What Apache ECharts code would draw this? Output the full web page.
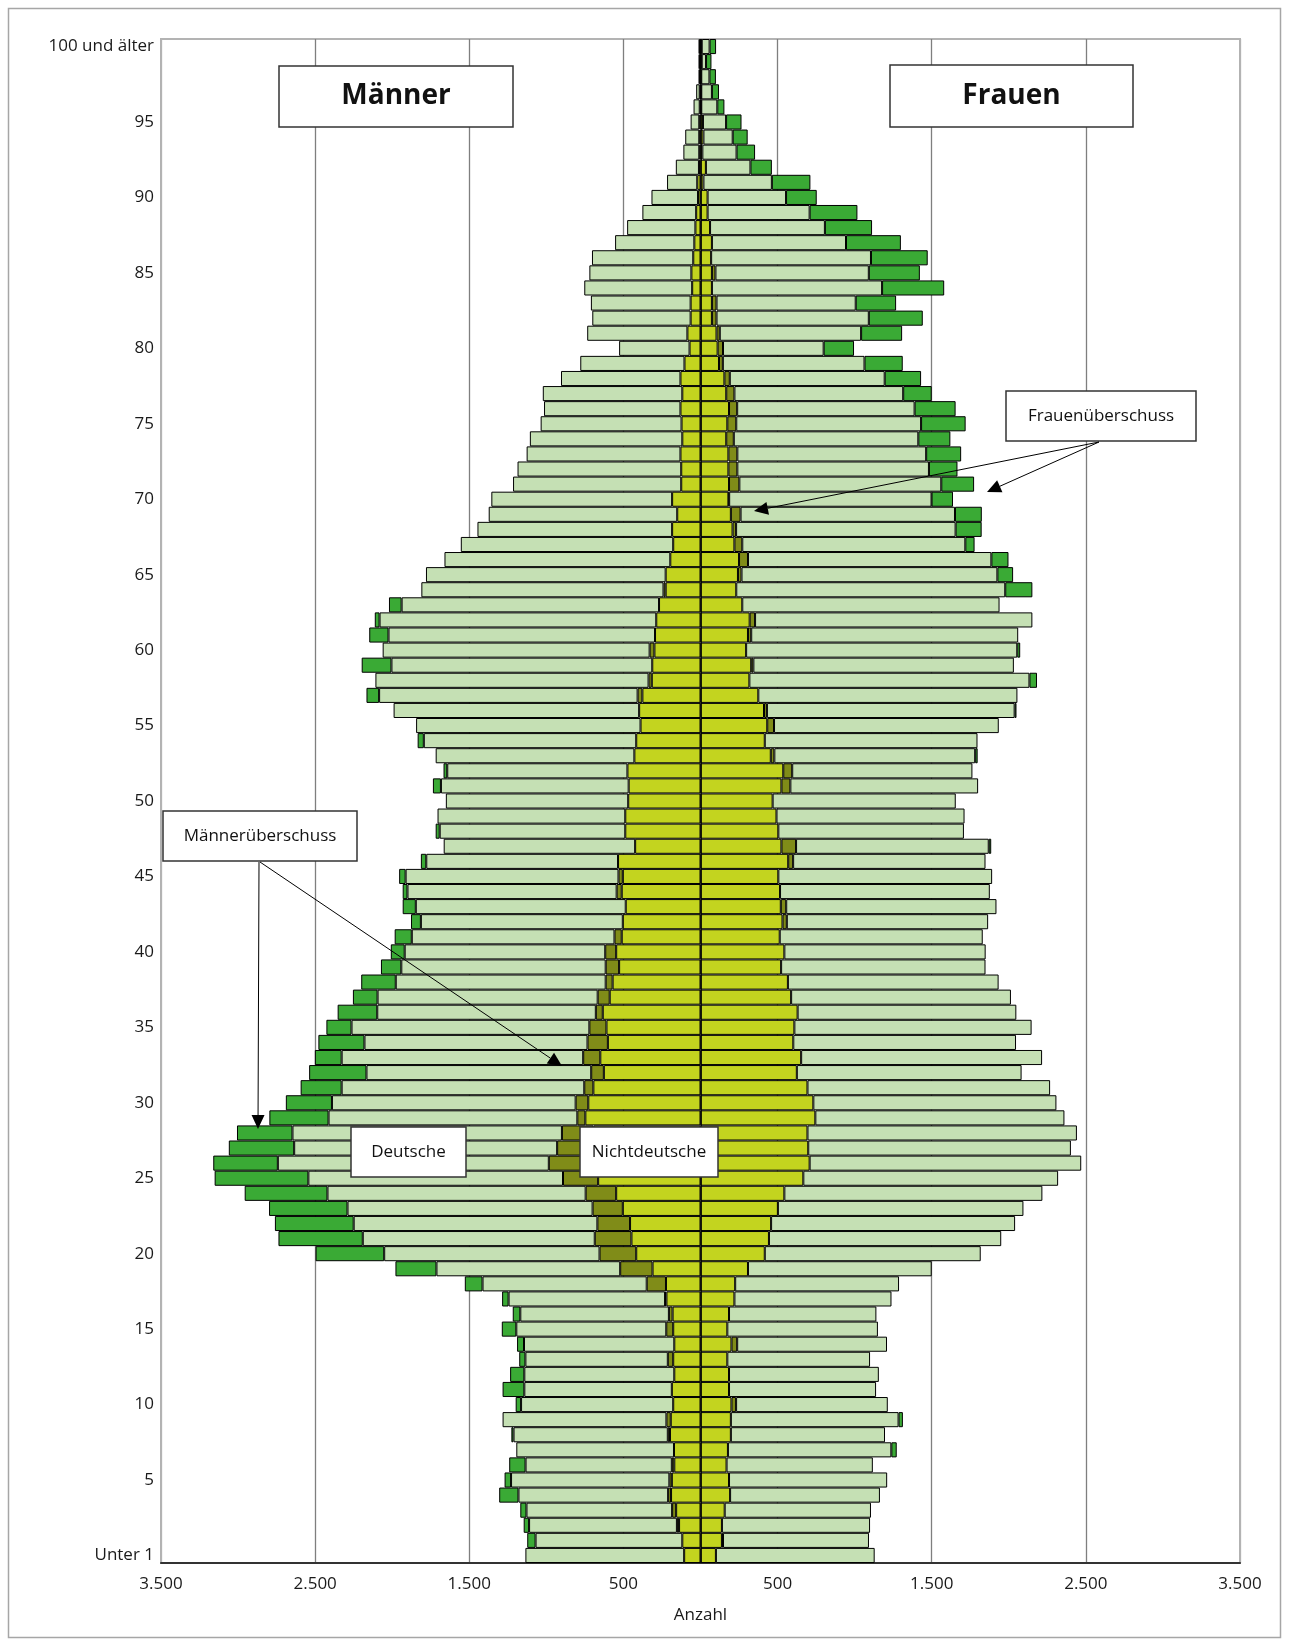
<!DOCTYPE html>
<html lang="de">
<head>
<meta charset="utf-8">
<title>Bevölkerungspyramide</title>
<script src="https://cdn.jsdelivr.net/npm/echarts@6/dist/echarts.min.js"></script>
<style>
  html, body { margin: 0; padding: 0; background: #fff; }
  #chart { width: 1289px; height: 1646px; }
</style>
</head>
<body>
<div id="chart"></div>
<script>
// Altersjahre 0 .. 100 (Index = Alter)
const ageLabels = [];
for (let i = 0; i <= 100; i++) {
  ageLabels.push(i === 0 ? 'Unter 1' : i === 100 ? '100 und älter' : String(i));
}

// Männer: Nichtdeutsche (gemeinsamer Teil), Überschuss Nichtdeutsche, Deutsche, Überschuss Deutsche
const maennerND = [
  106, 118, 139, 158, 191, 186, 170, 172, 198, 193,
  177, 186, 170, 177, 170, 177, 181, 221, 224, 311,
  417, 448, 457, 504, 547, 664, 708, 699, 694, 747,
  728, 695, 627, 650, 601, 610, 634, 589, 570, 528,
  547, 511, 504, 485, 511, 504, 535, 424, 488, 488,
  469, 466, 474, 429, 417, 389, 398, 377, 316, 313,
  299, 295, 287, 269, 226, 226, 196, 177, 184, 151,
  184, 125, 125, 130, 118, 123, 130, 118, 130, 104,
  71, 85, 64, 64, 54, 59, 47, 40, 33, 28,
  16, 21, 10, 8, 8, 8, 5, 5, 3, 3,
  3
];
const maennerNDUeber = [
  0, 0, 14, 26, 19, 16, 16, 0, 14, 28,
  0, 0, 0, 35, 0, 45, 24, 9, 125, 210,
  238, 238, 212, 196, 198, 228, 276, 231, 205, 52,
  82, 59, 82, 111, 132, 111, 45, 78, 45, 87,
  71, 47, 0, 0, 33, 28, 0, 0, 0, 0,
  0, 0, 0, 0, 0, 0, 0, 31, 21, 0,
  31, 0, 0, 0, 14, 0, 0, 0, 0, 0,
  0, 0, 0, 0, 0, 0, 0, 0, 0, 0,
  0, 0, 0, 0, 0, 0, 0, 0, 0, 0,
  0, 0, 0, 0, 0, 0, 0, 0, 0, 0,
  0
];
const maennerD = [
  1030, 952, 959, 945, 971, 1027, 949, 1023, 1001, 1063,
  987, 957, 973, 924, 975, 973, 964, 1015, 1065, 1192,
  1397, 1505, 1581, 1590, 1675, 1652, 1758, 1706, 1748, 1614,
  1581, 1574, 1458, 1567, 1447, 1543, 1418, 1428, 1362, 1326,
  1301, 1315, 1310, 1362, 1357, 1381, 1244, 1242, 1204, 1218,
  1183, 1218, 1169, 1289, 1378, 1456, 1593, 1677, 1772, 1692,
  1732, 1729, 1795, 1670, 1571, 1555, 1465, 1378, 1263, 1223,
  1173, 1091, 1062, 998, 989, 914, 885, 905, 775, 676,
  457, 650, 638, 647, 700, 662, 657, 514, 443, 349,
  302, 196, 150, 103, 91, 56, 40, 23, 10, 10,
  10
];
const maennerDUeber = [
  0, 54, 35, 40, 125, 42, 106, 0, 14, 0,
  35, 141, 92, 40, 45, 94, 49, 42, 115, 266,
  445, 547, 511, 509, 537, 608, 419, 424, 360, 384,
  299, 266, 372, 174, 299, 163, 257, 160, 224, 132,
  90, 111, 64, 85, 31, 42, 35, 0, 26, 0,
  0, 52, 24, 0, 40, 0, 0, 82, 0, 193,
  0, 125, 31, 82, 0, 0, 0, 0, 0, 0,
  0, 0, 0, 0, 0, 0, 0, 0, 0, 0,
  0, 0, 0, 0, 0, 0, 0, 0, 0, 0,
  0, 0, 0, 0, 0, 0, 0, 0, 0, 0,
  0
];

// Frauen: gleiche Aufteilung
const frauenND = [
  100, 139, 139, 157, 192, 185, 169, 178, 197, 197,
  201, 185, 185, 174, 201, 174, 185, 220, 225, 308,
  417, 444, 458, 502, 544, 667, 708, 699, 694, 745,
  732, 694, 625, 653, 602, 609, 630, 588, 567, 523,
  544, 514, 532, 521, 516, 505, 569, 525, 505, 493,
  468, 525, 537, 456, 417, 433, 412, 375, 317, 329,
  296, 308, 319, 271, 232, 243, 250, 220, 208, 197,
  181, 185, 181, 181, 167, 174, 185, 167, 155, 120,
  111, 104, 74, 74, 74, 74, 69, 74, 62, 46,
  46, 19, 35, 12, 19, 16, 5, 5, 5, 8,
  8
];
const frauenNDUeber = [
  0, 7, 0, 0, 0, 0, 0, 0, 0, 0,
  30, 0, 0, 0, 37, 0, 0, 0, 0, 0,
  0, 0, 0, 0, 0, 0, 0, 0, 0, 0,
  0, 0, 0, 0, 0, 0, 0, 0, 0, 0,
  0, 0, 28, 35, 0, 0, 32, 95, 0, 0,
  0, 58, 58, 23, 0, 44, 19, 0, 0, 14,
  0, 21, 35, 0, 0, 23, 58, 51, 23, 63,
  5, 67, 58, 58, 49, 58, 53, 53, 35, 25,
  35, 21, 30, 30, 0, 23, 0, 0, 0, 0,
  0, 0, 0, 0, 0, 0, 0, 0, 0, 0,
  0
];
const frauenD = [
  1030, 947, 961, 949, 972, 1026, 949, 1060, 1000, 1088,
  984, 954, 972, 926, 972, 977, 956, 1019, 1063, 1192,
  1401, 1507, 1583, 1593, 1674, 1653, 1762, 1704, 1748, 1616,
  1577, 1574, 1458, 1563, 1445, 1539, 1419, 1426, 1367, 1326,
  1306, 1317, 1306, 1364, 1361, 1387, 1248, 1250, 1204, 1220,
  1188, 1218, 1169, 1303, 1380, 1458, 1607, 1681, 1817, 1690,
  1759, 1732, 1799, 1669, 1745, 1660, 1579, 1447, 1424, 1391,
  1313, 1310, 1243, 1225, 1197, 1199, 1151, 1095, 1005, 919,
  653, 917, 988, 903, 1104, 995, 1037, 870, 745, 662,
  509, 444, 289, 222, 190, 150, 104, 69, 53, 28,
  51
];
const frauenDUeber = [
  0, 0, 0, 0, 0, 0, 0, 35, 0, 28,
  0, 0, 0, 0, 0, 0, 0, 0, 0, 0,
  0, 0, 0, 0, 0, 0, 0, 0, 0, 0,
  0, 0, 0, 0, 0, 0, 0, 0, 0, 0,
  0, 0, 0, 0, 0, 0, 0, 16, 0, 0,
  0, 0, 0, 16, 0, 0, 12, 0, 49, 0,
  19, 0, 0, 0, 176, 102, 111, 60, 169, 174,
  139, 213, 185, 227, 208, 289, 266, 185, 236, 248,
  197, 266, 350, 262, 403, 331, 368, 356, 306, 310,
  199, 250, 139, 120, 97, 100, 46, 46, 42, 35,
  42
];

const FONT = '"Open Sans", "Noto Sans", sans-serif';
const colors = {
  nd: '#c3d41f',
  ndUeber: '#808c18',
  d: '#c5e0b4',
  dUeber: '#3aaa35'
};

// Männer nach links (negativ), 0 als fehlend, damit keine leeren Rahmen entstehen
function toBar(arr, sign) {
  return arr.map(v => (v === 0 ? '-' : sign * v));
}

function formatNum(v) {
  v = Math.abs(v);
  if (v >= 1000) {
    const rest = String(v % 1000).padStart(3, '0');
    return Math.floor(v / 1000) + '.' + rest;
  }
  return String(v);
}

function barSeries(name, data, color) {
  return {
    name: name,
    type: 'bar',
    stack: 'pyramide',
    data: data,
    barCategoryGap: '0%',
    itemStyle: { color: color, borderColor: '#000', borderWidth: 1 },
    emphasis: { disabled: true }
  };
}

// Pfeil mit gefüllter Spitze
function arrow(x1, y1, x2, y2) {
  const len = 14, half = 6.5;
  const dx = x2 - x1, dy = y2 - y1, d = Math.hypot(dx, dy);
  const ux = dx / d, uy = dy / d;
  const bx = x2 - ux * len, by = y2 - uy * len;
  return [
    { type: 'line', z: 100, shape: { x1: x1, y1: y1, x2: bx, y2: by },
      style: { stroke: '#000', lineWidth: 1 } },
    { type: 'polygon', z: 100,
      shape: { points: [[x2, y2], [bx - uy * half, by + ux * half], [bx + uy * half, by - ux * half]] },
      style: { fill: '#000' } }
  ];
}

function box(x, y, w, h, text, font) {
  return [
    { type: 'rect', z: 100, shape: { x: x, y: y, width: w, height: h },
      style: { fill: '#fff', stroke: '#333', lineWidth: 1.5 } },
    { type: 'text', z: 101, x: x + w / 2, y: y + h / 2,
      style: { text: text, font: font, fill: '#111',
        textAlign: 'center', textVerticalAlign: 'middle', align: 'center', verticalAlign: 'middle' } }
  ];
}

const chart = echarts.init(document.getElementById('chart'), null, { renderer: 'canvas' });

const seriesList = [
  barSeries('Nichtdeutsche Männer', toBar(maennerND, -1), colors.nd),
  barSeries('Männerüberschuss Nichtdeutsche', toBar(maennerNDUeber, -1), colors.ndUeber),
  barSeries('Deutsche Männer', toBar(maennerD, -1), colors.d),
  barSeries('Männerüberschuss Deutsche', toBar(maennerDUeber, -1), colors.dUeber),
  barSeries('Nichtdeutsche Frauen', toBar(frauenND, 1), colors.nd),
  barSeries('Frauenüberschuss Nichtdeutsche', toBar(frauenNDUeber, 1), colors.ndUeber),
  barSeries('Deutsche Frauen', toBar(frauenD, 1), colors.d),
  barSeries('Frauenüberschuss Deutsche', toBar(frauenDUeber, 1), colors.dUeber)
];

// Nulllinie über den Balken
seriesList[4].markLine = {
  silent: true,
  symbol: ['none', 'none'],
  label: { show: false },
  lineStyle: { color: '#000', width: 1.5, type: 'solid' },
  data: [{ xAxis: 0 }]
};

const graphics = [].concat(
  [{ type: 'rect', z: 90, shape: { x: 8.5, y: 8.5, width: 1272, height: 1629 },
     style: { fill: 'none', stroke: '#a6a6a6', lineWidth: 1.5 } }],
  box(279, 66, 234, 61, 'Männer', 'bold 28px ' + FONT),
  box(890, 65, 243, 62, 'Frauen', 'bold 28px ' + FONT),
  box(1006, 391, 190, 50, 'Frauenüberschuss', '17px ' + FONT),
  box(163, 811, 194, 50, 'Männerüberschuss', '17px ' + FONT),
  box(351, 1127, 115, 50, 'Deutsche', '17px ' + FONT),
  box(580, 1127, 138, 50, 'Nichtdeutsche', '17px ' + FONT),
  arrow(1099, 442, 754, 511),
  arrow(1099, 442, 987, 492),
  arrow(259, 862, 258, 1129),
  arrow(260, 862, 562, 1066)
);

const option = {
  animation: false,
  backgroundColor: '#fff',
  textStyle: { fontFamily: FONT },
  grid: {
    left: 161, right: 49, top: 39, bottom: 83,
    show: true, borderColor: '#b3b3b3', borderWidth: 2, backgroundColor: 'transparent'
  },
  xAxis: {
    type: 'value',
    min: -3500,
    max: 3500,
    interval: 1000,
    axisLine: { show: true, lineStyle: { color: '#333', width: 2 } },
    axisTick: { show: false },
    axisLabel: { formatter: formatNum, fontSize: 17, color: '#1a1a1a', margin: 13, fontFamily: FONT },
    splitLine: {
      show: true,
      lineStyle: {
        color: ['#b3b3b3', '#7f7f7f', '#7f7f7f', '#7f7f7f', '#7f7f7f', '#7f7f7f', '#7f7f7f', '#b3b3b3'],
        width: 1.3
      }
    },
    name: 'Anzahl',
    nameLocation: 'middle',
    nameGap: 44,
    nameTextStyle: { fontSize: 17, color: '#1a1a1a', fontFamily: FONT }
  },
  yAxis: {
    type: 'category',
    data: ageLabels,
    axisLine: { show: false },
    axisTick: { show: false },
    splitLine: { show: false },
    axisLabel: {
      interval: (index) => index % 5 === 0,
      fontSize: 17,
      color: '#1a1a1a',
      margin: 7,
      fontFamily: FONT
    }
  },
  series: seriesList,
  graphic: graphics
};

chart.setOption(option);
</script>
</body>
</html>
